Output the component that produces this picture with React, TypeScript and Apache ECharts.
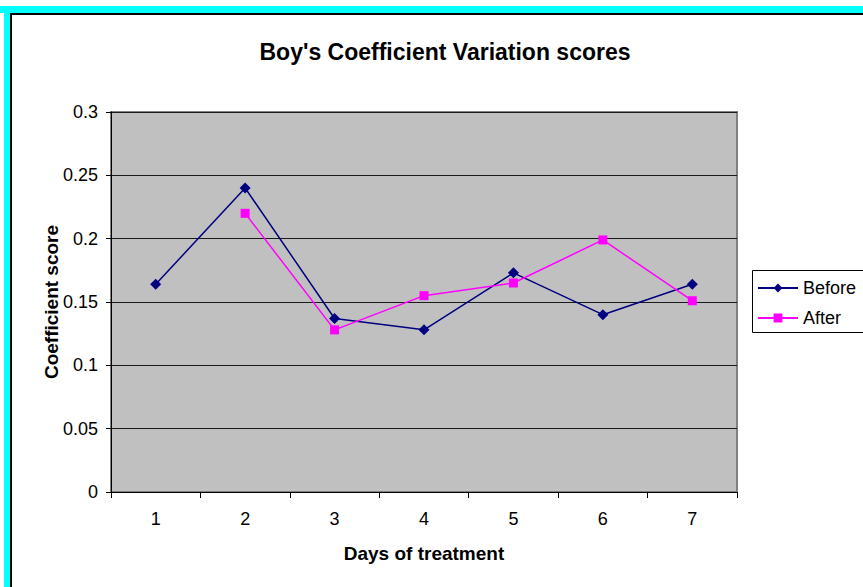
import React, { useEffect, useRef } from "react";
import * as echarts from "echarts";

const categories = ["1", "2", "3", "4", "5", "6", "7"];
const beforeValues = [0.164, 0.24, 0.137, 0.128, 0.173, 0.14, 0.164];
const afterValues: (number | null)[] = [null, 0.22, 0.128, 0.155, 0.165, 0.199, 0.151];
const yTicks = { min: 0, max: 0.3, interval: 0.05 };

export default function App() {
  const ref = useRef<HTMLDivElement>(null);
  useEffect(() => {
    if (!ref.current) return;
    const chart = echarts.init(ref.current, undefined, { renderer: "svg" });
    const font = "'Liberation Sans', Arial, sans-serif";
    chart.setOption({
      animation: false,
      backgroundColor: "#FFFFFF",
      textStyle: { fontFamily: font },
      title: {
        text: "Boy's Coefficient Variation scores",
        left: 440,
        textAlign: "center",
        top: 35,
        textStyle: { fontFamily: font, fontSize: 23, fontWeight: "bold", color: "#000" },
      },
      graphic: [
        { type: "rect", shape: { x: 0, y: 6, width: 863, height: 7 }, style: { fill: "#00FFFF" }, silent: true },
        { type: "rect", shape: { x: 4, y: 6, width: 6, height: 590 }, style: { fill: "#00FFFF" }, silent: true },
        { type: "rect", shape: { x: 10, y: 13, width: 860, height: 2 }, style: { fill: "#000" }, silent: true },
        { type: "rect", shape: { x: 10, y: 13, width: 2, height: 590 }, style: { fill: "#000" }, silent: true },
        {
          type: "rect",
          shape: { x: 752.5, y: 270.5, width: 130, height: 62 },
          style: { fill: "#FFFFFF", stroke: "#000", lineWidth: 1 },
          silent: true,
          z: -1,
        },
      ],
      legend: {
        left: 752,
        top: 274,
        orient: "vertical",
        itemGap: 12,
        itemWidth: 40,
        itemHeight: 11,
        textStyle: { fontFamily: font, fontSize: 18, color: "#000" },
        data: ["Before", "After"],
      },
      grid: {
        left: 111,
        top: 112,
        right: 126,
        bottom: 95,
        show: true,
        backgroundColor: "#C0C0C0",
        borderColor: "#808080",
        borderWidth: 2,
      },
      xAxis: {
        type: "category",
        data: categories,
        boundaryGap: true,
        name: "Days of treatment",
        nameLocation: "middle",
        nameGap: 52,
        nameMoveOverlap: false,
        nameTextStyle: { fontFamily: font, fontSize: 19, fontWeight: "bold", color: "#000" },
        axisLine: { show: true, lineStyle: { color: "#000", width: 1 } },
        axisTick: { show: true, length: 6, lineStyle: { color: "#000" } },
        axisLabel: { fontFamily: font, fontSize: 18, color: "#000", margin: 18 },
        splitLine: { show: false },
      },
      yAxis: {
        type: "value",
        min: yTicks.min,
        max: yTicks.max,
        interval: yTicks.interval,
        name: "Coefficient score",
        nameLocation: "middle",
        nameGap: 50,
        nameMoveOverlap: false,
        nameTextStyle: { fontFamily: font, fontSize: 19, fontWeight: "bold", color: "#000" },
        axisLine: { show: true, lineStyle: { color: "#000", width: 1 } },
        axisTick: { show: true, length: 5, lineStyle: { color: "#000" } },
        axisLabel: { fontFamily: font, fontSize: 18, color: "#000", margin: 13 },
        splitLine: { show: true, lineStyle: { color: "#1a1a1a", width: 1 } },
      },
      series: [
        {
          name: "Before",
          type: "line",
          data: beforeValues,
          symbol: "diamond",
          symbolSize: 11,
          itemStyle: { color: "#000080" },
          lineStyle: { color: "#000080", width: 1.5 },
        },
        {
          name: "After",
          type: "line",
          data: afterValues,
          symbol: "rect",
          symbolSize: 9,
          connectNulls: false,
          itemStyle: { color: "#FF00FF" },
          lineStyle: { color: "#FF00FF", width: 1.5 },
        },
      ],
    });
    return () => chart.dispose();
  }, []);
  return (
    <div
      ref={ref}
      style={{ position: "fixed", left: 0, top: 0, width: 863, height: 587 }}
    />
  );
}
